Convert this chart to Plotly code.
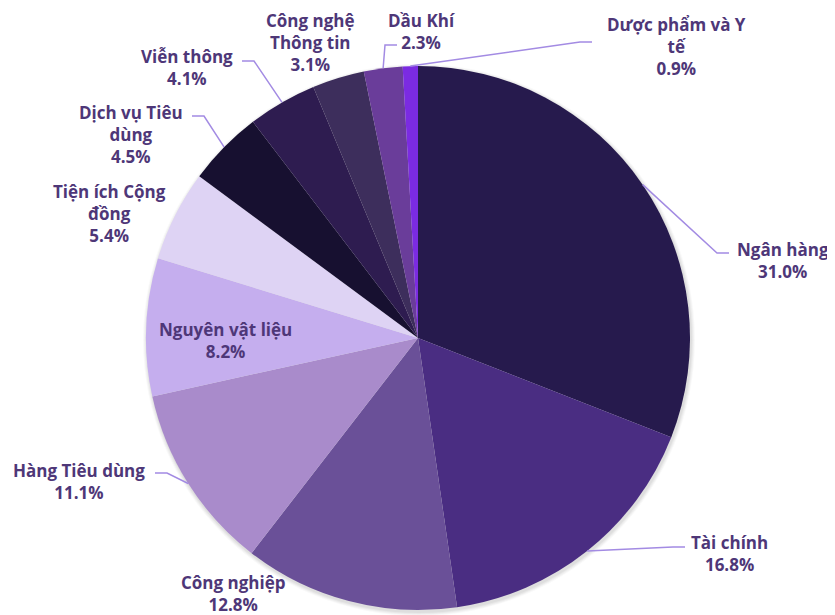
import math
import plotly.graph_objects as go

# ---- data ----
sectors = ["Ngân hàng", "Tài chính", "Công nghiệp", "Hàng Tiêu dùng", "Nguyên vật liệu",
           "Tiện ích Cộng đồng", "Dịch vụ Tiêu dùng", "Viễn thông", "Công nghệ Thông tin",
           "Dầu Khí", "Dược phẩm và Y tế"]
weights = [31.0, 16.8, 12.8, 11.1, 8.2, 5.4, 4.5, 4.1, 3.1, 2.3, 0.9]
# label text broken into lines as in the chart
label_lines = ["Ngân hàng", "Tài chính", "Công nghiệp", "Hàng Tiêu dùng", "Nguyên vật liệu",
               "Tiện ích Cộng<br>đồng", "Dịch vụ Tiêu<br>dùng", "Viễn thông", "Công nghệ<br>Thông tin",
               "Dầu Khí", "Dược phẩm và Y<br>tế"]

# ---- styles / layout ----
colors = ["#261A4D", "#4A2D82", "#6A5098", "#A98BCB", "#C5AEEE", "#DED3F4",
          "#171030", "#2E1C50", "#3D2E5C", "#6A3D9A", "#7B2BE2"]
OFF = 8                      # page body margin
W, H = 835 - OFF, 615 - OFF  # figure size
CX, CY, R = 418, 338, 272    # page pixels
TEXT_COLOR = "#4E3778"
LINE_COLOR = "#A38BE3"
FONT = "Open Sans"
FS = 17

# label block centres (page px) and connector end points (page px) -- layout only
label_pos = [(783, 260), (729, 553), (233, 593), (79, 481), (226, 340), (109, 213),
             (131, 134), (187, 68), (310, 42), (421, 31), (676, 46)]
conn_end = [(729, 253), (685, 547), None, (155, 473), None, None,
            (192, 116), (242, 61), None, (397, 45), (592, 42)]


def px(x, y):
    return (x - OFF) / W, 1 - (y - OFF) / H


fig = go.Figure()

# soft shadow under the pie
for i, a in enumerate([0.025, 0.03, 0.035, 0.04]):
    rr = R + 4 - i
    x0, y0 = px(CX - rr + 1, CY - rr + 2)
    x1, y1 = px(CX + rr + 1, CY + rr + 2)
    fig.add_shape(type="circle", xref="paper", yref="paper", x0=x0, x1=x1, y0=y1, y1=y0,
                  fillcolor=f"rgba(0,0,0,{a})", line=dict(width=0), layer="below")

dx0, dy1 = px(CX - R, CY - R)
dx1, dy0 = px(CX + R, CY + R)
fig.add_trace(go.Pie(
    labels=sectors, values=weights, sort=False, direction="clockwise", rotation=0,
    marker=dict(colors=colors, line=dict(width=0)),
    textinfo="none", textposition="none", hoverinfo="label+percent",
    domain=dict(x=[dx0, dx1], y=[dy0, dy1]), showlegend=False,
))

total = sum(weights)
cum = 0.0
for i, (name, v) in enumerate(zip(label_lines, weights)):
    mid = (cum + v / 2) / total * 2 * math.pi
    cum += v
    lx, ly = label_pos[i]
    X, Y = px(lx, ly)
    fig.add_annotation(x=X, y=Y, xref="paper", yref="paper", showarrow=False,
                       text=f"{name}<br>{v:.1f}%", align="center",
                       xanchor="center", yanchor="middle", borderpad=0,
                       font=dict(family=FONT, size=FS, color=TEXT_COLOR, weight="bold"))
    if conn_end[i] is not None:
        ex, ey = conn_end[i]
        sx, sy = CX + R * math.sin(mid), CY - R * math.cos(mid)
        side = 1 if ex > sx else -1
        bx, by = ex - 12 * side, ey
        p = [px(sx, sy), px(bx, by), px(ex, ey)]
        path = f"M {p[0][0]} {p[0][1]} L {p[1][0]} {p[1][1]} L {p[2][0]} {p[2][1]}"
        fig.add_shape(type="path", xref="paper", yref="paper", path=path,
                      line=dict(color=LINE_COLOR, width=1.5))

fig.update_layout(width=W, height=H, margin=dict(l=0, r=0, t=0, b=0),
                  paper_bgcolor="white", plot_bgcolor="white",
                  font=dict(family=FONT, color=TEXT_COLOR))
fig.write_html("out.html")
